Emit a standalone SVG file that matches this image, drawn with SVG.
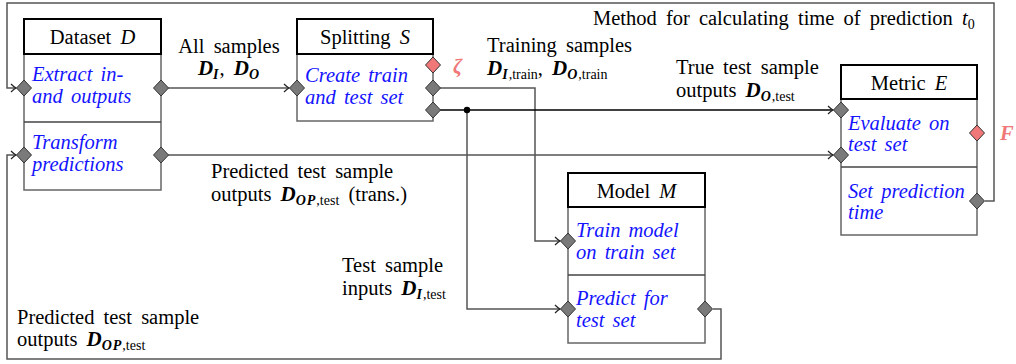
<svg xmlns="http://www.w3.org/2000/svg" width="1016" height="364" viewBox="0 0 1016 364">
<style>
text{font-family:"Liberation Serif","Times New Roman",serif;font-size:20.5px;fill:#000;word-spacing:4px}
.hdr{fill:#fff;stroke:#000;stroke-width:2}
.body{fill:#fff;stroke:#666;stroke-width:1.5}
.sep{stroke:#444;stroke-width:1.5}
.blue{fill:#1414ff;font-style:italic;font-size:20.5px;word-spacing:3px}
.mi{font-style:italic}
.mb{font-style:italic;font-weight:bold;font-size:21px}
.sb{font-size:14px;font-style:italic;font-weight:bold;letter-spacing:1px}
.sr{font-size:14px;word-spacing:0}
.port{fill:#7a7a7a;stroke:#333;stroke-width:1}
.rport{fill:#f07878;stroke:#333;stroke-width:1}
.red{fill:#f07878;font-style:italic;font-weight:bold}
.c{fill:none;stroke:#555;stroke-width:1.5}
.ck{fill:none;stroke:#000;stroke-width:1.5}
</style>
<defs>
<marker id="ar" markerWidth="10" markerHeight="10" refX="8" refY="5" orient="auto" markerUnits="userSpaceOnUse">
<path d="M3,1 Q6,4 8,5 Q6,6 3,9" fill="none" stroke="#222" stroke-width="1.2"/>
</marker>
<path id="dm" d="M0,-8 L7.5,0 L0,8 L-7.5,0 Z"/>
</defs>

<g id="connectors">
<path class="c" d="M168,88 H289" marker-end="url(#ar)"/>
<path class="c" d="M168,155 H833" marker-end="url(#ar)"/>
<path class="c" d="M440,88 H535 V241 H560" marker-end="url(#ar)"/>
<path class="ck" d="M440,110 H833" marker-end="url(#ar)"/>
<path class="c" d="M467,110 V309 H560" marker-end="url(#ar)"/>
<circle cx="467" cy="110" r="3.2" fill="#000"/>
<path class="c" d="M713,309 H721 V359 H7 V155 H16" marker-end="url(#ar)"/>
<path class="c" d="M985,201 H994 V3 H7 V88 H16" marker-end="url(#ar)"/>
</g>

<g id="dataset">
<rect class="body" x="24" y="54" width="137" height="136"/>
<line class="sep" x1="24" y1="122" x2="161" y2="122"/>
<rect class="hdr" x="24" y="19" width="137" height="35"/>
<text x="92.5" y="44" text-anchor="middle">Dataset <tspan class="mi">D</tspan></text>
<text class="blue" x="32" y="81">Extract in-</text>
<text class="blue" x="32" y="103">and outputs</text>
<text class="blue" x="32" y="149">Transform</text>
<text class="blue" x="32" y="171">predictions</text>
<use href="#dm" class="port" x="24" y="88"/>
<use href="#dm" class="port" x="24" y="155"/>
<use href="#dm" class="port" x="161" y="88"/>
<use href="#dm" class="port" x="161" y="155"/>
</g>

<g id="splitting">
<rect class="body" x="297" y="54" width="136" height="67"/>
<rect class="hdr" x="297" y="19" width="136" height="35"/>
<text x="365" y="44" text-anchor="middle">Splitting <tspan class="mi">S</tspan></text>
<text class="blue" x="305" y="82">Create train</text>
<text class="blue" x="305" y="104">and test set</text>
<use href="#dm" class="port" x="297" y="88"/>
<use href="#dm" class="rport" x="433" y="65"/>
<use href="#dm" class="port" x="433" y="88"/>
<use href="#dm" class="port" x="433" y="110"/>
<text class="red" x="453" y="73">ζ</text>
</g>

<g id="model">
<rect class="body" x="568" y="207" width="137" height="136"/>
<line class="sep" x1="568" y1="275" x2="705" y2="275"/>
<rect class="hdr" x="568" y="173" width="137" height="34"/>
<text x="636.5" y="198" text-anchor="middle">Model <tspan class="mi">M</tspan></text>
<text class="blue" x="576" y="237">Train model</text>
<text class="blue" x="576" y="259">on train set</text>
<text class="blue" x="576" y="305">Predict for</text>
<text class="blue" x="576" y="327">test set</text>
<use href="#dm" class="port" x="568" y="241"/>
<use href="#dm" class="port" x="568" y="309"/>
<use href="#dm" class="port" x="705" y="309"/>
</g>

<g id="metric">
<rect class="body" x="841" y="99" width="136" height="136"/>
<line class="sep" x1="841" y1="167" x2="977" y2="167"/>
<rect class="hdr" x="841" y="65" width="136" height="34"/>
<text x="909" y="90" text-anchor="middle">Metric <tspan class="mi">E</tspan></text>
<text class="blue" x="848" y="130">Evaluate on</text>
<text class="blue" x="848" y="151">test set</text>
<text class="blue" x="848" y="198">Set prediction</text>
<text class="blue" x="848" y="219">time</text>
<use href="#dm" class="port" x="841" y="110"/>
<use href="#dm" class="port" x="841" y="155"/>
<use href="#dm" class="rport" x="977" y="133"/>
<use href="#dm" class="port" x="977" y="201"/>
<text class="red" x="1000" y="140">F</text>
</g>

<g id="labels">
<text x="229" y="53" text-anchor="middle">All samples</text>
<text x="229" y="75" text-anchor="middle"><tspan class="mb">D</tspan><tspan class="sb" dy="4">I</tspan><tspan dy="-4">, </tspan><tspan class="mb">D</tspan><tspan class="sb" dy="4">O</tspan></text>
<text x="487" y="52">Training samples</text>
<text x="487" y="75"><tspan class="mb">D</tspan><tspan class="sb" dy="4">I</tspan><tspan class="sr">,train</tspan><tspan dy="-4">,  </tspan><tspan class="mb">D</tspan><tspan class="sb" dy="4">O</tspan><tspan class="sr">,train</tspan></text>
<text x="593" y="25">Method for calculating time of prediction <tspan class="mi">t</tspan><tspan class="sr" dy="4">0</tspan></text>
<text x="676" y="74">True test sample</text>
<text x="676" y="97">outputs <tspan class="mb">D</tspan><tspan class="sb" dy="4">O</tspan><tspan class="sr">,test</tspan></text>
<text x="211" y="178">Predicted test sample</text>
<text x="211" y="201">outputs <tspan class="mb">D</tspan><tspan class="sb" dy="4">OP</tspan><tspan class="sr">,test</tspan><tspan dy="-4"> (trans.)</tspan></text>
<text x="342" y="272">Test sample</text>
<text x="342" y="295">inputs <tspan class="mb">D</tspan><tspan class="sb" dy="4">I</tspan><tspan class="sr">,test</tspan></text>
<text x="17" y="324">Predicted test sample</text>
<text x="17" y="346">outputs <tspan class="mb">D</tspan><tspan class="sb" dy="4">OP</tspan><tspan class="sr">,test</tspan></text>
</g>
</svg>
